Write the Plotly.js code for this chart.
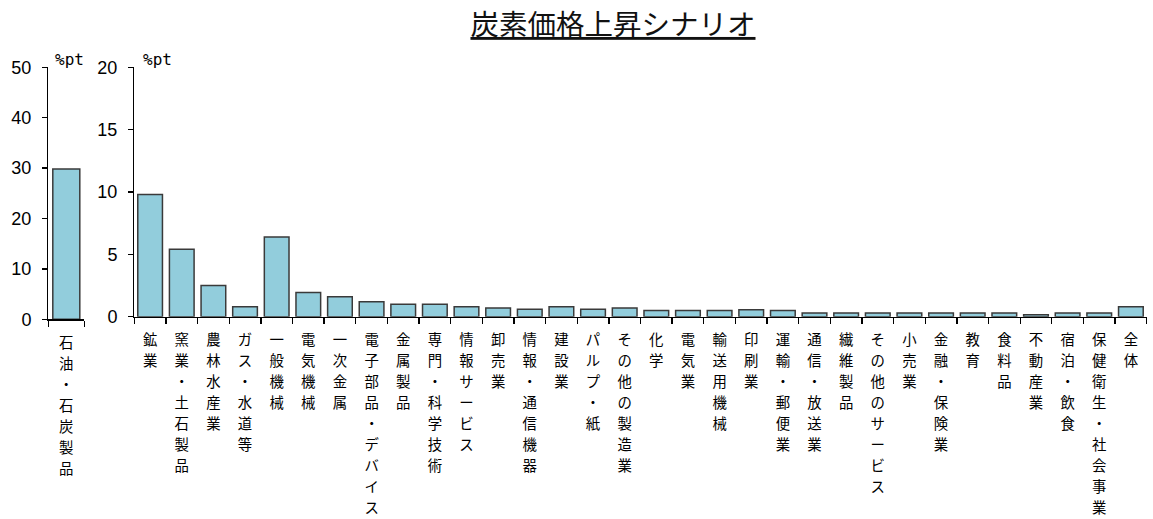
<!DOCTYPE html>
<html>
<head>
<meta charset="utf-8">
<script src="https://cdn.plot.ly/plotly-3.0.1.min.js"></script>
<style>html,body{margin:0;padding:0;background:#fff;}#chart{width:1153px;height:519px;}</style>
</head>
<body>
<div id="chart"></div>
<script>
// ---- data ----
const chartTitle = '炭素価格上昇シナリオ';
const unitLabel = '%pt';
const leftCategories = ['石油・石炭製品'];
const leftValues = [29.8];
const mainCategories = ['鉱業','窯業・土石製品','農林水産業','ガス・水道等','一般機械','電気機械','一次金属','電子部品・デバイス','金属製品','専門・科学技術','情報サービス','卸売業','情報・通信機器','建設業','パルプ・紙','その他の製造業','化学','電気業','輸送用機械','印刷業','運輸・郵便業','通信・放送業','繊維製品','その他のサービス','小売業','金融・保険業','教育','食料品','不動産業','宿泊・飲食','保健衛生・社会事業','全体'];
const mainValues = [9.8,5.4,2.5,0.8,6.4,1.95,1.6,1.2,1.0,1.0,0.8,0.7,0.6,0.8,0.6,0.7,0.5,0.5,0.5,0.55,0.5,0.3,0.3,0.3,0.3,0.3,0.3,0.3,0.15,0.3,0.3,0.8];
const leftTicks = [0,10,20,30,40,50];
const mainTicks = [0,5,10,15,20];

// ---- helpers ----
const vertical = s => Array.from(s).join('<br>');
const W = 1153, H = 519;
const px = x => x / W;
const py = y => 1 - y / H;

const barStyle = {color:'#92CDDC', line:{color:'#3a3a3a', width:1.5}};
const cjk = '"Noto Sans CJK JP", "Noto Sans", sans-serif';
const num = '"Liberation Sans", Arial, sans-serif';
const mono = '"DejaVu Sans Mono", "Liberation Mono", monospace';

const traces = [
  {type:'bar', x:leftCategories, y:leftValues, xaxis:'x', yaxis:'y', marker:barStyle, hoverinfo:'x+y', showlegend:false, width:0.75},
  {type:'bar', x:mainCategories, y:mainValues, xaxis:'x2', yaxis:'y2', marker:barStyle, hoverinfo:'x+y', showlegend:false, width:0.78}
];

const xCommon = {
  type:'category', showline:true, linecolor:'#000', linewidth:1.3,
  ticks:'outside', ticklen:6, tickwidth:1.3, tickcolor:'#000', tickson:'boundaries',
  showgrid:false, zeroline:false, tickangle:0, fixedrange:true, ticklabelstandoff:10,
  tickfont:{family:cjk, size:14.4, color:'#000'}
};
const yCommon = {
  showline:true, linecolor:'#000', linewidth:1.3,
  ticks:'outside', ticklen:5, tickwidth:1.3, tickcolor:'#000',
  showgrid:false, zeroline:false, fixedrange:true, ticklabelstandoff:7,
  tickfont:{family:num, size:18, color:'#000'}
};

const layout = {
  width:W, height:H,
  margin:{l:0, r:0, t:0, b:0},
  paper_bgcolor:'#fff', plot_bgcolor:'#fff',
  title:{text:'<u>'+chartTitle+'</u>', x:px(613), xanchor:'center', xref:'paper', yref:'container', y:py(25), yanchor:'middle',
         font:{family:cjk, size:28.5, color:'#111'}},
  xaxis: Object.assign({}, xCommon, {domain:[px(48.3), px(84.3)], anchor:'y',
          tickvals:leftCategories, ticktext:leftCategories.map(vertical), range:[-0.5,0.5]}),
  yaxis: Object.assign({}, yCommon, {domain:[py(319.3), py(67.3)], anchor:'x', range:[0,50], tickvals:leftTicks}),
  xaxis2: Object.assign({}, xCommon, {domain:[px(134.3), px(1146.7)], anchor:'y2',
          tickvals:mainCategories, ticktext:mainCategories.map(vertical), range:[-0.5, mainCategories.length-0.5]}),
  yaxis2: Object.assign({}, yCommon, {domain:[py(316.7), py(67.3)], anchor:'x2', range:[0,20], tickvals:mainTicks}),
  annotations:[
    {text:unitLabel, xref:'paper', yref:'paper', x:px(53), y:py(60), xanchor:'left', yanchor:'middle', showarrow:false,
     font:{family:mono, size:16, color:'#000'}},
    {text:unitLabel, xref:'paper', yref:'paper', x:px(141), y:py(60), xanchor:'left', yanchor:'middle', showarrow:false,
     font:{family:mono, size:16, color:'#000'}}
  ]
};

// widen the line spacing of the stacked (vertical) category labels
function spreadLines(gd) {
  const factor = 1.46 / 1.3;
  gd.querySelectorAll('g.xtick text tspan.line, g.x2tick text tspan.line').forEach(t => {
    const dy = t.getAttribute('dy');
    if (dy && /em$/.test(dy)) {
      const v = parseFloat(dy);
      t.setAttribute('dy', (v * factor) + 'em');
    }
  });
}

Plotly.newPlot('chart', traces, layout, {displayModeBar:false, staticPlot:true}).then(spreadLines);
</script>
</body>
</html>
